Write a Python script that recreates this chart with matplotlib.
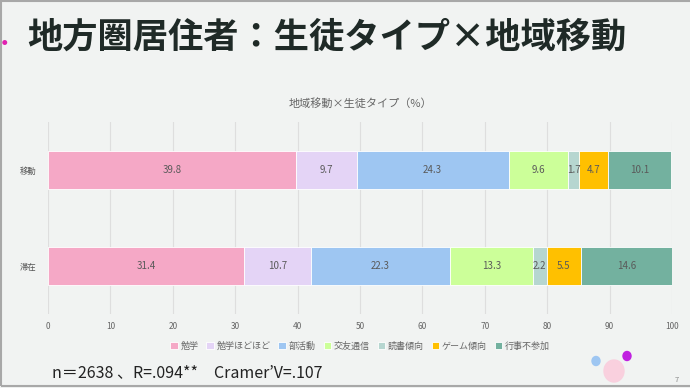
import numpy as np
import matplotlib.pyplot as plt
from matplotlib.patches import Rectangle, Ellipse

plt.rcParams['font.family'] = ['Noto Sans CJK JP', 'DejaVu Sans']

# データ
groups = ['移動', '滞在']
types = ['勉学', '勉学ほどほど', '部活動', '交友通信', '読書傾向', 'ゲーム傾向', '行事不参加']
idou = [39.8, 9.7, 24.3, 9.6, 1.7, 4.7, 10.1]
taizai = [31.4, 10.7, 22.3, 13.3, 2.2, 5.5, 14.6]
colors = ['#f5a8c6', '#e4d4f6', '#9ec6f2', '#ccff99', '#b6d6d0', '#ffc000', '#73b19f']
xticks = [0, 10, 20, 30, 40, 50, 60, 70, 80, 90, 100]

bg = '#f1f3f2'
fig = plt.figure(figsize=(6.9, 3.88), dpi=100, facecolor=bg)

#スライド枠
fig.patches.append(Rectangle((0.001, 0.004), 1.2, 0.993, transform=fig.transFigure,
                             fill=False, edgecolor='#a8a8a8', linewidth=1.5))

fig.text(0.006, 0.888, '●', color='#e020b0', fontsize=4, va='center', ha='center')
fig.text(0.040, 0.905, '地方圏居住者：生徒タイプ×地域移動', fontsize=25.4,
         fontweight='bold', color='#1f2a27', va='center', ha='left')

ax = fig.add_axes([0.0696, 0.1907, 0.9043, 0.4949])
ax.set_facecolor(bg)

data = np.array([idou, taizai])
y = np.arange(len(groups))
left = np.zeros(len(groups))
for i, t in enumerate(types):
    vals = data[:, i]
    bars = ax.barh(y, vals, left=left, height=0.4, color=colors[i],
                   edgecolor='#ffffff', linewidth=0.6, label=t, zorder=3)
    for j, v in enumerate(vals):
        ax.text(left[j] + v / 2, y[j], f'{v:.1f}', ha='center', va='center',
                fontsize=7, color='#5a5a5a', zorder=4)
    left += vals

ax.set_xlim(0, 100)
ax.set_ylim(1.5, -0.5)
ax.set_xticks(xticks)
ax.set_yticks(y)
ax.set_yticklabels(groups)
ax.tick_params(axis='x', labelsize=6, colors='#666666', length=0, pad=6)
ax.tick_params(axis='y', labelsize=6, colors='#555555', length=0, pad=8)
ax.grid(axis='x', color='#dedede', linewidth=0.8, zorder=0)
for s in ax.spines.values():
    s.set_visible(False)

ax.set_title('地域移動×生徒タイプ（%）', fontsize=8, color='#666666', pad=11)

leg = ax.legend(loc='upper center', bbox_to_anchor=(0.5, -0.1), ncol=7,
                frameon=False, fontsize=6.5, handlelength=0.8, handleheight=0.8,
                handletextpad=0.3, columnspacing=0.9)
for txt in leg.get_texts():
    txt.set_color('#666666')

fig.text(0.075, 0.04, 'n＝2638 、R=.094**　Cramer\u2019V=.107', fontsize=11.5,
         color='#222222', va='center', ha='left')

# 飾りの丸
fig.patches.append(Ellipse((596 / 690, 1 - 361 / 388), 8 / 690, 9 / 388,
                           transform=fig.transFigure, color='#9ec6f2'))
fig.patches.append(Ellipse((627 / 690, 1 - 356 / 388), 8 / 690, 9 / 388,
                           transform=fig.transFigure, color='#c020e0'))
fig.patches.append(Ellipse((614 / 690, 1 - 371 / 388), 20 / 690, 22 / 388,
                           transform=fig.transFigure, color='#f9d0de'))
fig.text(0.981, 0.02, '7', fontsize=5.5, color='#888888', ha='center', va='center')

fig.savefig('out.png', dpi=100, facecolor=bg)
